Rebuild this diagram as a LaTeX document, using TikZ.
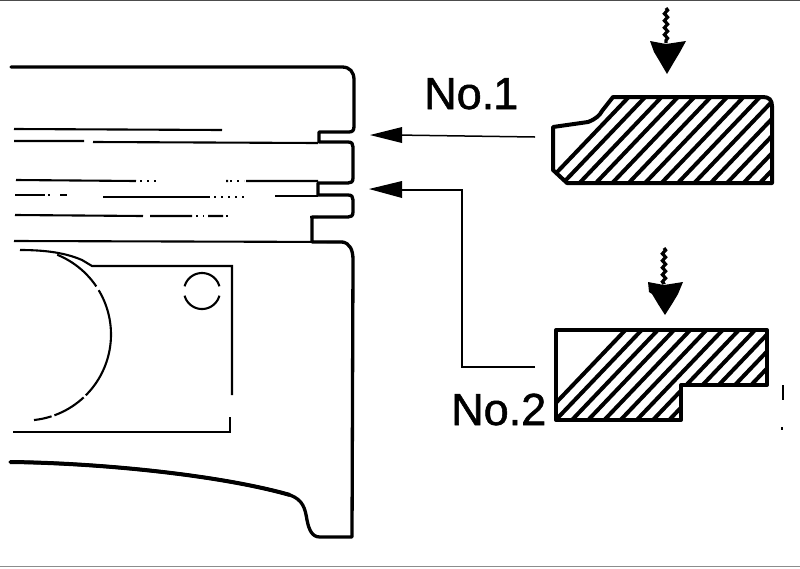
\documentclass[tikz,border=0pt]{standalone}
\usepackage{fontspec}
\setmainfont{Liberation Sans}
\usetikzlibrary{decorations.pathmorphing}
\tikzset{
  outline/.style={line width=3.3pt,line join=round,line cap=round,black},
  thinline/.style={line width=2.1pt,black},
  dotline/.style={line width=2pt,black,dash pattern=on 2pt off 5pt},
  hairline/.style={line width=2.1pt,black},
  hatchline/.style={line width=4pt,black},
  profile/.style={line width=4pt,line join=round,black},
  leader/.style={line width=1.5pt,black},
  leaderbold/.style={line width=2.5pt,black},
  lab/.style={font=\fontsize{45}{45}\selectfont\addfontfeatures{FakeBold=1.2},inner sep=0pt,anchor=base west},
  wiggle/.style={line width=3.2pt,black,decorate,decoration={snake,amplitude=1.6pt,segment length=7pt}}
}
\begin{document}
\begin{tikzpicture}[x=1pt,y=-1pt]
\useasboundingbox (0,0) rectangle (800,568);
\fill[white] (0,0) rectangle (800,568);
\draw[line width=1.5pt,black!70] (0,0.5) -- (800,0.5);
\draw[line width=1.2pt,black!45] (0,566.5) -- (800,566.5);

% piston outline
\draw[outline] (11,67) -- (342,67) .. controls (350,67) and (354,72) .. (354,80)
  -- (354,126) .. controls (354,130) and (353,132) .. (349,132) -- (319,132) -- (319,142)
  -- (348,142) .. controls (352,142) and (353,144) .. (353,147) -- (353,178)
  .. controls (353,182) and (351,183) .. (348,183) -- (318,183) -- (318,195)
  -- (348,195) .. controls (352,195) and (353,197) .. (353,200) -- (353,212)
  .. controls (353,216) and (351,217) .. (348,217) -- (312,217) -- (312,242)
  -- (342,242) .. controls (350,243) and (353,250) .. (353,260) -- (352,537) -- (320,537)
  .. controls (312,537) and (309,530) .. (307,520) .. controls (305,508) and (303,500) .. (290,495)
  .. controls (220,475) and (100,463) .. (10,462);
\draw[line width=4pt,black] (10,462) .. controls (100,463) and (220,475) .. (290,495);

% ring-groove lines
\draw[thinline] (14,129) -- (222,130);
\draw[thinline] (14,141) -- (84,141) (93,142) -- (318,143);
\draw[thinline] (16,180) -- (136,181) (226,181) -- (228,181) (246,181) -- (318,181);
\draw[dotline] (140,181) -- (158,181) (230,181) -- (244,181);
\draw[thinline] (15,195) -- (45,195) (60,195) -- (67,195) (103,197) -- (210,197) (275,196) -- (318,196);
\draw[dotline] (48,195) -- (54,195) (214,197) -- (246,197);
\draw[thinline] (15,215) -- (143,216) (150,216) -- (192,216) (208,216) -- (223,216) (310,217) -- (318,217);
\draw[dotline] (196,216) -- (204,216) (226,216) -- (232,216);
\draw[thinline] (14,241) -- (345,242);

% pin boss
\draw[hairline] (20,250) .. controls (50,250) and (68,254) .. (82,260) -- (92,266) -- (232,266) -- (232,395);
\draw[hairline] (230,417) -- (230,432) -- (13,432);
\draw[hairline] plot[smooth,domain=-68:-34,samples=14] ({25+86*cos(\x)},{334.5+86*sin(\x)});
\draw[hairline] plot[smooth,domain=-31:45,samples=24] ({25+86*cos(\x)},{334.5+86*sin(\x)});
\draw[hairline] plot[smooth,domain=47:70,samples=10] ({25+86*cos(\x)},{334.5+86*sin(\x)});
\draw[hairline] plot[smooth,domain=72:84,samples=6] ({25+86*cos(\x)},{334.5+86*sin(\x)});
\draw[hairline] plot[smooth,domain=-165:-15,samples=30] ({202+18*cos(\x)},{291+18*sin(\x)});
\draw[hairline] plot[smooth,domain=15:165,samples=30] ({202+18*cos(\x)},{291+18*sin(\x)});

% ring No.1
\begin{scope}
  \clip (553,127) -- (588,122) -- (602,113) -- (613,96) -- (763,96) -- (772,105) -- (772,183) -- (567,183) -- (553,170) -- cycle;
  \foreach \k in {0,...,22} { \draw[hatchline] ({540+\k*16.4},190) -- ({540+\k*16.4+105},80); }
\end{scope}
\draw[profile] (553,127) -- (588,122) .. controls (596,119) and (600,115) .. (602,111) -- (613,97) -- (763,97)
  .. controls (769,97) and (772,100) .. (772,106) -- (772,183) -- (567,183) -- (553,170) -- cycle;

% ring No.2
\begin{scope}
  \clip (556,329) -- (767,329) -- (767,385) -- (681,385) -- (681,420) -- (556,420) -- cycle;
  \foreach \k in {0,...,24} { \draw[hatchline] ({530+\k*16.2},430) -- ({530+\k*16.2+105},320); }
\end{scope}
\draw[profile] (556,330) -- (767,330) -- (767,385) -- (681,385) -- (681,420) -- (556,420) -- cycle;

% load arrows
\coordinate (loadAtop) at (666,8);
\coordinate (loadAend) at (666,43);
\coordinate (loadBtop) at (664,248);
\coordinate (loadBend) at (664,284);
\draw[wiggle] (loadAtop) -- (loadAend);
\draw[wiggle] (loadBtop) -- (loadBend);
\fill[black] (650,41) -- (666,44) -- (686,41) -- (680,52) -- (674,62) -- (667,74) -- (660,62) -- (654,52) -- cycle;
\fill[black] (648,282) -- (664,285) -- (683,282) -- (678,294) -- (672,304) -- (665,315) -- (658,304) -- (652,294) -- (649,292) -- cycle;

% leaders
\coordinate (ringA) at (535,137);
\coordinate (grooveA) at (395,135);
\coordinate (ringB) at (535,367);
\coordinate (bendB) at (462,367);
\coordinate (bendC) at (462,190);
\coordinate (grooveB) at (395,190);
\draw[leader] (ringA) -- (grooveA);
\draw[leaderbold] (ringB) -- (bendB) -- (bendC) -- (grooveB);
\fill[black] (370,135) -- (402,127) -- (402,143) -- cycle;
\fill[black] (369,189) -- (402,181) -- (402,198) -- cycle;

% labels
\node[lab] (lblA) at (424,109) {No.\kern-1pt 1};
\node[lab] (lblB) at (451,425) {No.2};

% specks
\fill[black] (782,385) rectangle (783.5,400);
\fill[black] (781,427) rectangle (783,429.5);
\end{tikzpicture}
\end{document}
